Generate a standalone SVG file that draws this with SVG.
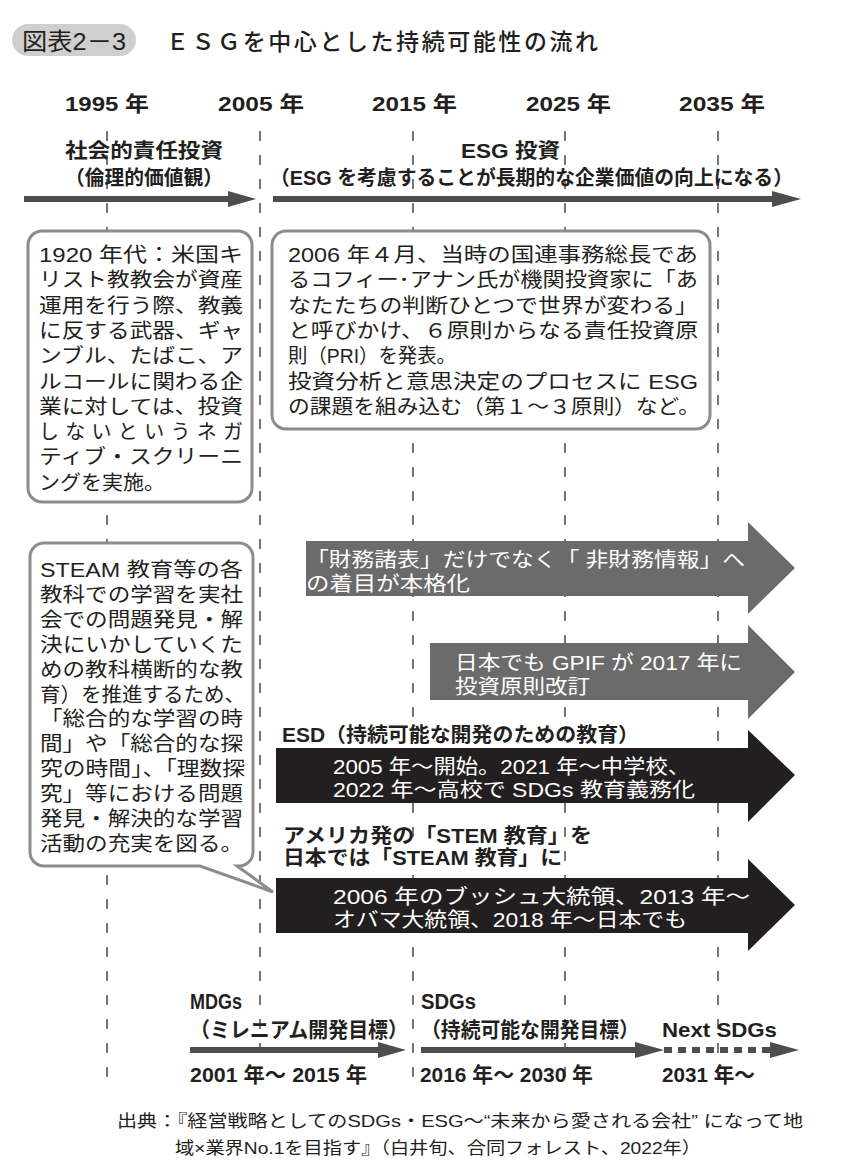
<svg xmlns="http://www.w3.org/2000/svg" width="846" height="1174" viewBox="0 0 846 1174">
<style>
text{font-family:'Liberation Sans','Noto Sans CJK JP',sans-serif;fill:#231f20;}
.r{font-size:20px;font-weight:400;}
.b{font-size:20px;font-weight:700;}
.y{font-size:21px;font-weight:700;}
.w{fill:#ffffff;}
.s{font-size:17px;font-weight:400;}
.box{fill:#ffffff;stroke:#8c8c8c;stroke-width:3;}
.dash{stroke:#777777;stroke-width:2;stroke-dasharray:10 14;fill:none;}
.ax{fill:#4d4d4d;}
.gray{fill:#6b6b6b;}
.blk{fill:#231f20;}
</style>
<rect width="846" height="1174" fill="#ffffff"/>

<g id="gridlines">
<line class="dash" x1="107" y1="131" x2="107" y2="1085"/>
<line class="dash" x1="260" y1="131" x2="260" y2="1085"/>
<line class="dash" x1="413" y1="131" x2="413" y2="1085"/>
<line class="dash" x1="565" y1="131" x2="565" y2="1085"/>
<line class="dash" x1="718" y1="131" x2="718" y2="1085"/>
</g>

<g id="title">
<rect x="12" y="24" width="124" height="32" rx="16" fill="#cfcfcf"/>
<text x="22" y="50" style="font-size:24px" textLength="104" lengthAdjust="spacingAndGlyphs">図表2－3</text>
<text x="166" y="50" style="font-size:23px;font-weight:500" textLength="432" lengthAdjust="spacing">ＥＳＧを中心とした持続可能性の流れ</text>
</g>

<g id="years">
<text class="y" x="65" y="111" textLength="84" lengthAdjust="spacingAndGlyphs">1995 年</text>
<text class="y" x="218" y="111" textLength="86" lengthAdjust="spacingAndGlyphs">2005 年</text>
<text class="y" x="372" y="111" textLength="85" lengthAdjust="spacingAndGlyphs">2015 年</text>
<text class="y" x="526" y="111" textLength="85" lengthAdjust="spacingAndGlyphs">2025 年</text>
<text class="y" x="679" y="111" textLength="86" lengthAdjust="spacingAndGlyphs">2035 年</text>
</g>

<g id="era-sri">
<text class="b" x="65" y="158" textLength="158" lengthAdjust="spacingAndGlyphs">社会的責任投資</text>
<text class="b" x="65" y="185" textLength="158" lengthAdjust="spacingAndGlyphs">（倫理的価値観）</text>
</g>
<g id="era-esg">
<text class="b" x="461" y="158" textLength="99" lengthAdjust="spacingAndGlyphs">ESG 投資</text>
<text class="b" x="270" y="185" textLength="523" lengthAdjust="spacingAndGlyphs">（ESG を考慮することが長期的な企業価値の向上になる）</text>
</g>

<g id="connectors">
<rect class="ax" x="24" y="196" width="206" height="6"/>
<polygon class="ax" points="228,191 256,199 228,207"/>
<rect class="ax" x="273" y="196" width="501" height="6"/>
<polygon class="ax" points="772,191 801,199 772,207"/>
<rect class="ax" x="190" y="1047" width="190" height="6"/>
<polygon class="ax" points="378,1042 406,1050 378,1058"/>
<rect class="ax" x="421" y="1047" width="216" height="6"/>
<polygon class="ax" points="635,1042 664,1050 635,1058"/>
<line x1="664" y1="1050" x2="770" y2="1050" stroke="#4d4d4d" stroke-width="6" stroke-dasharray="8 6"/>
<polygon class="ax" points="770,1042 799,1050 770,1058"/>
</g>

<g id="box-1920">
<rect class="box" x="28" y="231" width="224" height="271" rx="14"/>
<text class="r" x="39" y="262" textLength="204" lengthAdjust="spacingAndGlyphs">1920 年代：米国キ</text>
<text class="r" x="39" y="287.3" textLength="204" lengthAdjust="spacingAndGlyphs">リスト教教会が資産</text>
<text class="r" x="39" y="312.6" textLength="204" lengthAdjust="spacingAndGlyphs">運用を行う際、教義</text>
<text class="r" x="39" y="337.9" textLength="204" lengthAdjust="spacingAndGlyphs">に反する武器、ギャ</text>
<text class="r" x="39" y="363.2" textLength="204" lengthAdjust="spacingAndGlyphs">ンブル、たばこ、ア</text>
<text class="r" x="39" y="388.5" textLength="204" lengthAdjust="spacingAndGlyphs">ルコールに関わる企</text>
<text class="r" x="39" y="413.8" textLength="204" lengthAdjust="spacingAndGlyphs">業に対しては、投資</text>
<text class="r" x="39" y="439.1" textLength="204" lengthAdjust="spacing">しないというネガ</text>
<text class="r" x="39" y="464.4" textLength="204" lengthAdjust="spacingAndGlyphs">ティブ・スクリーニ</text>
<text class="r" x="39" y="489.7" textLength="126" lengthAdjust="spacingAndGlyphs">ングを実施。</text>
</g>

<g id="box-2006">
<rect class="box" x="272" y="231" width="438" height="198" rx="14"/>
<text class="r" x="288" y="262" textLength="410" lengthAdjust="spacingAndGlyphs">2006 年４月、当時の国連事務総長であ</text>
<text class="r" x="288" y="287.3" textLength="410" lengthAdjust="spacingAndGlyphs">るコフィー･アナン氏が機関投資家に「あ</text>
<text class="r" x="288" y="312.6" textLength="410" lengthAdjust="spacingAndGlyphs">なたたちの判断ひとつで世界が変わる」</text>
<text class="r" x="288" y="337.9" textLength="410" lengthAdjust="spacingAndGlyphs">と呼びかけ、６原則からなる責任投資原</text>
<text class="r" x="288" y="363.2" textLength="168" lengthAdjust="spacingAndGlyphs">則（PRI）を発表。</text>
<text class="r" x="288" y="388.5" textLength="410" lengthAdjust="spacingAndGlyphs">投資分析と意思決定のプロセスに ESG</text>
<text class="r" x="288" y="413.8" textLength="412" lengthAdjust="spacingAndGlyphs">の課題を組み込む（第１～３原則）など。</text>
</g>

<g id="bubble-steam">
<path class="box" d="M44,543 H239 A14,14 0 0 1 253,557 V852 A14,14 0 0 1 239,866 H237 L273,892 L200,866 H44 A14,14 0 0 1 30,852 V557 A14,14 0 0 1 44,543 Z"/>
<text class="r" x="40" y="577" textLength="203" lengthAdjust="spacingAndGlyphs">STEAM 教育等の各</text>
<text class="r" x="40" y="601.9" textLength="203" lengthAdjust="spacingAndGlyphs">教科での学習を実社</text>
<text class="r" x="40" y="626.8" textLength="203" lengthAdjust="spacingAndGlyphs">会での問題発見・解</text>
<text class="r" x="40" y="651.7" textLength="203" lengthAdjust="spacingAndGlyphs">決にいかしていくた</text>
<text class="r" x="40" y="676.6" textLength="203" lengthAdjust="spacingAndGlyphs">めの教科横断的な教</text>
<text class="r" x="40" y="701.5" textLength="205" lengthAdjust="spacingAndGlyphs">育）を推進するため、</text>
<text class="r" x="40" y="726.4" textLength="203" lengthAdjust="spacingAndGlyphs">「総合的な学習の時</text>
<text class="r" x="40" y="751.3" textLength="203" lengthAdjust="spacingAndGlyphs">間」や「総合的な探</text>
<text class="r" x="40" y="776.2" textLength="205" lengthAdjust="spacingAndGlyphs">究の時間」、「理数探</text>
<text class="r" x="40" y="801.1" textLength="203" lengthAdjust="spacingAndGlyphs">究」等における問題</text>
<text class="r" x="40" y="826" textLength="203" lengthAdjust="spacingAndGlyphs">発見・解決的な学習</text>
<text class="r" x="40" y="850.9" textLength="203" lengthAdjust="spacingAndGlyphs">活動の充実を図る。</text>
</g>

<g id="arrow-nonfinancial">
<polygon class="gray" points="306,541 748,541 748,522 795,568 748,614 748,596 306,596"/>
<text class="r w" x="306" y="567" textLength="439" lengthAdjust="spacingAndGlyphs">「財務諸表」だけでなく「 非財務情報」へ</text>
<text class="r w" x="306" y="591" textLength="164" lengthAdjust="spacingAndGlyphs">の着目が本格化</text>
</g>

<g id="arrow-gpif">
<polygon class="gray" points="430,643 748,643 748,625 795,672 748,719 748,700 430,700"/>
<text class="r w" x="455" y="670" textLength="287" lengthAdjust="spacingAndGlyphs">日本でも GPIF が 2017 年に</text>
<text class="r w" x="455" y="694" textLength="135" lengthAdjust="spacingAndGlyphs">投資原則改訂</text>
</g>

<g id="arrow-esd">
<text class="b" x="282" y="742" textLength="357" lengthAdjust="spacingAndGlyphs">ESD（持続可能な開発のための教育）</text>
<polygon class="blk" points="276,748 748,748 748,730 795,775 748,822 748,803 276,803"/>
<text class="r w" x="333" y="774" textLength="357" lengthAdjust="spacingAndGlyphs">2005 年～開始。2021 年～中学校、</text>
<text class="r w" x="333" y="797" textLength="362" lengthAdjust="spacingAndGlyphs">2022 年～高校で SDGs 教育義務化</text>
</g>

<g id="arrow-stem">
<text class="b" x="283" y="843" textLength="309" lengthAdjust="spacingAndGlyphs">アメリカ発の「STEM 教育」を</text>
<text class="b" x="283" y="865" textLength="279" lengthAdjust="spacingAndGlyphs">日本では「STEAM 教育」に</text>
<polygon class="blk" points="276,878 748,878 748,859 795,905 748,951 748,933 276,933"/>
<text class="r w" x="333" y="904" textLength="417" lengthAdjust="spacingAndGlyphs">2006 年のブッシュ大統領、2013 年～</text>
<text class="r w" x="333" y="927" textLength="354" lengthAdjust="spacingAndGlyphs">オバマ大統領、2018 年～日本でも</text>
</g>

<g id="mdgs">
<text class="y" x="190" y="1009" style="font-size:22px" textLength="52" lengthAdjust="spacingAndGlyphs">MDGs</text>
<text class="y" x="190" y="1037" textLength="218" lengthAdjust="spacingAndGlyphs">（ミレニアム開発目標）</text>
<text class="y" x="190" y="1082" textLength="177" lengthAdjust="spacingAndGlyphs">2001 年～ 2015 年</text>
</g>
<g id="sdgs">
<text class="y" x="421" y="1009" style="font-size:22px" textLength="55" lengthAdjust="spacingAndGlyphs">SDGs</text>
<text class="y" x="421" y="1037" textLength="218" lengthAdjust="spacingAndGlyphs">（持続可能な開発目標）</text>
<text class="y" x="420" y="1082" textLength="173" lengthAdjust="spacingAndGlyphs">2016 年～ 2030 年</text>
</g>
<g id="next-sdgs">
<text class="y" x="662" y="1037" textLength="115" lengthAdjust="spacingAndGlyphs">Next SDGs</text>
<text class="y" x="662" y="1082" textLength="93" lengthAdjust="spacingAndGlyphs">2031 年～</text>
</g>

<g id="source">
<text class="s" x="117" y="1127" textLength="686" lengthAdjust="spacingAndGlyphs">出典：『経営戦略としてのSDGs・ESG～“未来から愛される会社” になって地</text>
<text class="s" x="175" y="1154" textLength="526" lengthAdjust="spacingAndGlyphs">域×業界No.1を目指す』（白井旬、合同フォレスト、2022年）</text>
</g>
</svg>
